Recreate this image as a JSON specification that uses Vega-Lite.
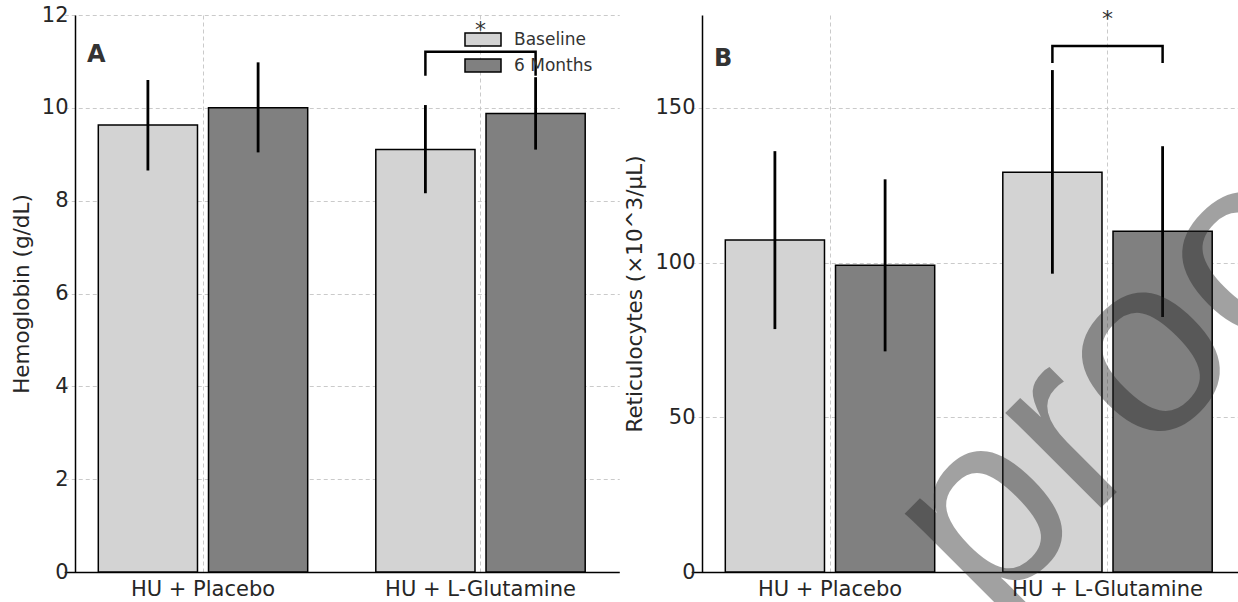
{
  "$schema": "https://vega.github.io/schema/vega-lite/v6.json",
  "background": "white",
  "padding": {"left": 11, "top": 4, "right": 0, "bottom": 0},
  "datasets": {
    "hgb": [
      {"group": "HU + Placebo", "series": "Baseline", "mean": 9.63, "lo": 8.65, "hi": 10.6},
      {"group": "HU + Placebo", "series": "6 Months", "mean": 10.0, "lo": 9.04, "hi": 10.98},
      {"group": "HU + L-Glutamine", "series": "Baseline", "mean": 9.1, "lo": 8.16, "hi": 10.06},
      {"group": "HU + L-Glutamine", "series": "6 Months", "mean": 9.88, "lo": 9.1, "hi": 10.66}
    ],
    "hgbBracket": [
      {"group": "HU + L-Glutamine", "series": "Baseline", "ord": 1, "v": 10.69},
      {"group": "HU + L-Glutamine", "series": "Baseline", "ord": 2, "v": 11.21},
      {"group": "HU + L-Glutamine", "series": "6 Months", "ord": 3, "v": 11.21},
      {"group": "HU + L-Glutamine", "series": "6 Months", "ord": 4, "v": 10.69}
    ],
    "hgbStar": [{"group": "HU + L-Glutamine", "v": 11.53, "label": "*"}],
    "ret": [
      {"group": "HU + Placebo", "series": "Baseline", "mean": 107.3, "lo": 78.5, "hi": 136.0},
      {"group": "HU + Placebo", "series": "6 Months", "mean": 99.1, "lo": 71.3, "hi": 126.9},
      {"group": "HU + L-Glutamine", "series": "Baseline", "mean": 129.2, "lo": 96.4, "hi": 162.2},
      {"group": "HU + L-Glutamine", "series": "6 Months", "mean": 110.1, "lo": 82.4, "hi": 137.6}
    ],
    "retBracket": [
      {"group": "HU + L-Glutamine", "series": "Baseline", "ord": 1, "v": 164.5},
      {"group": "HU + L-Glutamine", "series": "Baseline", "ord": 2, "v": 170.0},
      {"group": "HU + L-Glutamine", "series": "6 Months", "ord": 3, "v": 170.0},
      {"group": "HU + L-Glutamine", "series": "6 Months", "ord": 4, "v": 164.5}
    ],
    "retStar": [{"group": "HU + L-Glutamine", "v": 176.5, "label": "*"}],
    "mark": [{"group": "HU + L-Glutamine", "series": "6 Months", "v": 40.7, "label": "proof"}]
  },
  "config": {
    "font": "DejaVu Sans",
    "view": {"stroke": null},
    "axis": {
      "labelFont": "DejaVu Sans",
      "titleFont": "DejaVu Sans",
      "labelFontSize": 21,
      "titleFontSize": 21.5,
      "titleFontWeight": "normal",
      "labelColor": "#262626",
      "titleColor": "#262626",
      "domainColor": "#000000",
      "domainWidth": 1.5,
      "ticks": false,
      "labelPadding": 7,
      "titlePadding": 8,
      "labelLimit": 0,
      "grid": true,
      "gridColor": "#c4c4c4",
      "gridDash": [4, 3],
      "gridWidth": 0.9
    },
    "title": {"font": "DejaVu Sans", "fontSize": 24, "fontWeight": "bold", "color": "#333333", "anchor": "start", "frame": "group", "offset": 0}
  },
  "bounds": "flush",
  "spacing": 92,
  "hconcat": [
    {
      "width": 535,
      "height": 557,
      "title": {"text": "A", "dx": 12, "dy": 86, "baseline": "alphabetic"},
      "layer": [
        {
          "data": {"name": "hgb"},
          "mark": {"type": "bar", "stroke": "#000000", "strokeWidth": 1.5},
          "encoding": {
            "x": {"field": "group", "type": "nominal", "sort": ["HU + Placebo", "HU + L-Glutamine"],
                  "scale": {"range": [-10.75, 544.25], "paddingInner": 0, "paddingOuter": 0},
                  "axis": {"title": null, "labelAngle": 0, "grid": true, "labelPadding": 6}},
            "xOffset": {"field": "series", "type": "nominal", "sort": ["Baseline", "6 Months"],
                        "scale": {"paddingInner": 0.1, "paddingOuter": 0.309}},
            "y": {"field": "mean", "type": "quantitative",
                  "scale": {"domain": [0, 12], "nice": false},
                  "axis": {"title": "Hemoglobin (g/dL)", "values": [0, 2, 4, 6, 8, 10, 12]}},
            "color": {"field": "series", "type": "nominal", "sort": ["Baseline", "6 Months"],
                      "scale": {"domain": ["Baseline", "6 Months"], "range": ["#d3d3d3", "#808080"]},
                      "legend": {"title": null, "orient": "none", "legendX": 399.5, "legendY": 16, "padding": 0,
                                 "symbolType": "M-2.77,-1H2.77V1H-2.77Z", "symbolSize": 169,
                                 "symbolStrokeColor": "#000000", "symbolStrokeWidth": 1.5, "symbolOpacity": 1,
                                 "labelFont": "DejaVu Sans", "labelFontSize": 17, "labelColor": "#333333",
                                 "labelOffset": 22.5, "rowPadding": 7}}
          }
        },
        {
          "data": {"name": "hgb"},
          "mark": {"type": "rule", "color": "#000000", "strokeWidth": 2.8},
          "encoding": {
            "x": {"field": "group", "type": "nominal", "sort": ["HU + Placebo", "HU + L-Glutamine"]},
            "xOffset": {"field": "series", "type": "nominal", "sort": ["Baseline", "6 Months"]},
            "y": {"field": "lo", "type": "quantitative"},
            "y2": {"field": "hi"}
          }
        },
        {
          "data": {"name": "hgbBracket"},
          "mark": {"type": "line", "color": "#000000", "strokeWidth": 2.5},
          "encoding": {
            "x": {"field": "group", "type": "nominal", "sort": ["HU + Placebo", "HU + L-Glutamine"]},
            "xOffset": {"field": "series", "type": "nominal", "sort": ["Baseline", "6 Months"]},
            "y": {"field": "v", "type": "quantitative"},
            "order": {"field": "ord", "type": "quantitative"}
          }
        },
        {
          "data": {"name": "hgbStar"},
          "mark": {"type": "text", "fontSize": 22, "color": "#333333", "baseline": "alphabetic", "align": "center"},
          "encoding": {
            "x": {"field": "group", "type": "nominal", "sort": ["HU + Placebo", "HU + L-Glutamine"]},
            "y": {"field": "v", "type": "quantitative"},
            "text": {"field": "label"}
          }
        }
      ]
    },
    {
      "width": 535,
      "height": 557,
      "title": {"text": "B", "dx": 12, "dy": 86, "baseline": "alphabetic"},
      "layer": [
        {
          "data": {"name": "ret"},
          "mark": {"type": "bar", "stroke": "#000000", "strokeWidth": 1.5},
          "encoding": {
            "x": {"field": "group", "type": "nominal", "sort": ["HU + Placebo", "HU + L-Glutamine"],
                  "scale": {"range": [-10.75, 544.25], "paddingInner": 0, "paddingOuter": 0},
                  "axis": {"title": null, "labelAngle": 0, "grid": true, "labelPadding": 6}},
            "xOffset": {"field": "series", "type": "nominal", "sort": ["Baseline", "6 Months"],
                        "scale": {"paddingInner": 0.1, "paddingOuter": 0.309}},
            "y": {"field": "mean", "type": "quantitative",
                  "scale": {"domain": [0, 180], "nice": false},
                  "axis": {"title": "Reticulocytes (×10^3/μL)", "values": [0, 50, 100, 150]}},
            "color": {"field": "series", "type": "nominal", "sort": ["Baseline", "6 Months"],
                      "scale": {"domain": ["Baseline", "6 Months"], "range": ["#d3d3d3", "#808080"]},
                      "legend": null}
          }
        },
        {
          "data": {"name": "ret"},
          "mark": {"type": "rule", "color": "#000000", "strokeWidth": 2.8},
          "encoding": {
            "x": {"field": "group", "type": "nominal", "sort": ["HU + Placebo", "HU + L-Glutamine"]},
            "xOffset": {"field": "series", "type": "nominal", "sort": ["Baseline", "6 Months"]},
            "y": {"field": "lo", "type": "quantitative"},
            "y2": {"field": "hi"}
          }
        },
        {
          "data": {"name": "retBracket"},
          "mark": {"type": "line", "color": "#000000", "strokeWidth": 2.5},
          "encoding": {
            "x": {"field": "group", "type": "nominal", "sort": ["HU + Placebo", "HU + L-Glutamine"]},
            "xOffset": {"field": "series", "type": "nominal", "sort": ["Baseline", "6 Months"]},
            "y": {"field": "v", "type": "quantitative"},
            "order": {"field": "ord", "type": "quantitative"}
          }
        },
        {
          "data": {"name": "retStar"},
          "mark": {"type": "text", "fontSize": 22, "color": "#333333", "baseline": "alphabetic", "align": "center"},
          "encoding": {
            "x": {"field": "group", "type": "nominal", "sort": ["HU + Placebo", "HU + L-Glutamine"]},
            "y": {"field": "v", "type": "quantitative"},
            "text": {"field": "label"}
          }
        },
        {
          "data": {"name": "mark"},
          "mark": {"type": "text", "font": "Liberation Sans", "fontSize": 255, "angle": 315, "align": "center", "baseline": "alphabetic", "dx": 44, "color": "#222222", "opacity": 0.42},
          "encoding": {
            "x": {"field": "group", "type": "nominal", "sort": ["HU + Placebo", "HU + L-Glutamine"]},
            "xOffset": {"field": "series", "type": "nominal", "sort": ["Baseline", "6 Months"]},
            "y": {"field": "v", "type": "quantitative"},
            "text": {"field": "label"}
          }
        }
      ]
    }
  ],
  "resolve": {"scale": {"y": "independent"}}
}
